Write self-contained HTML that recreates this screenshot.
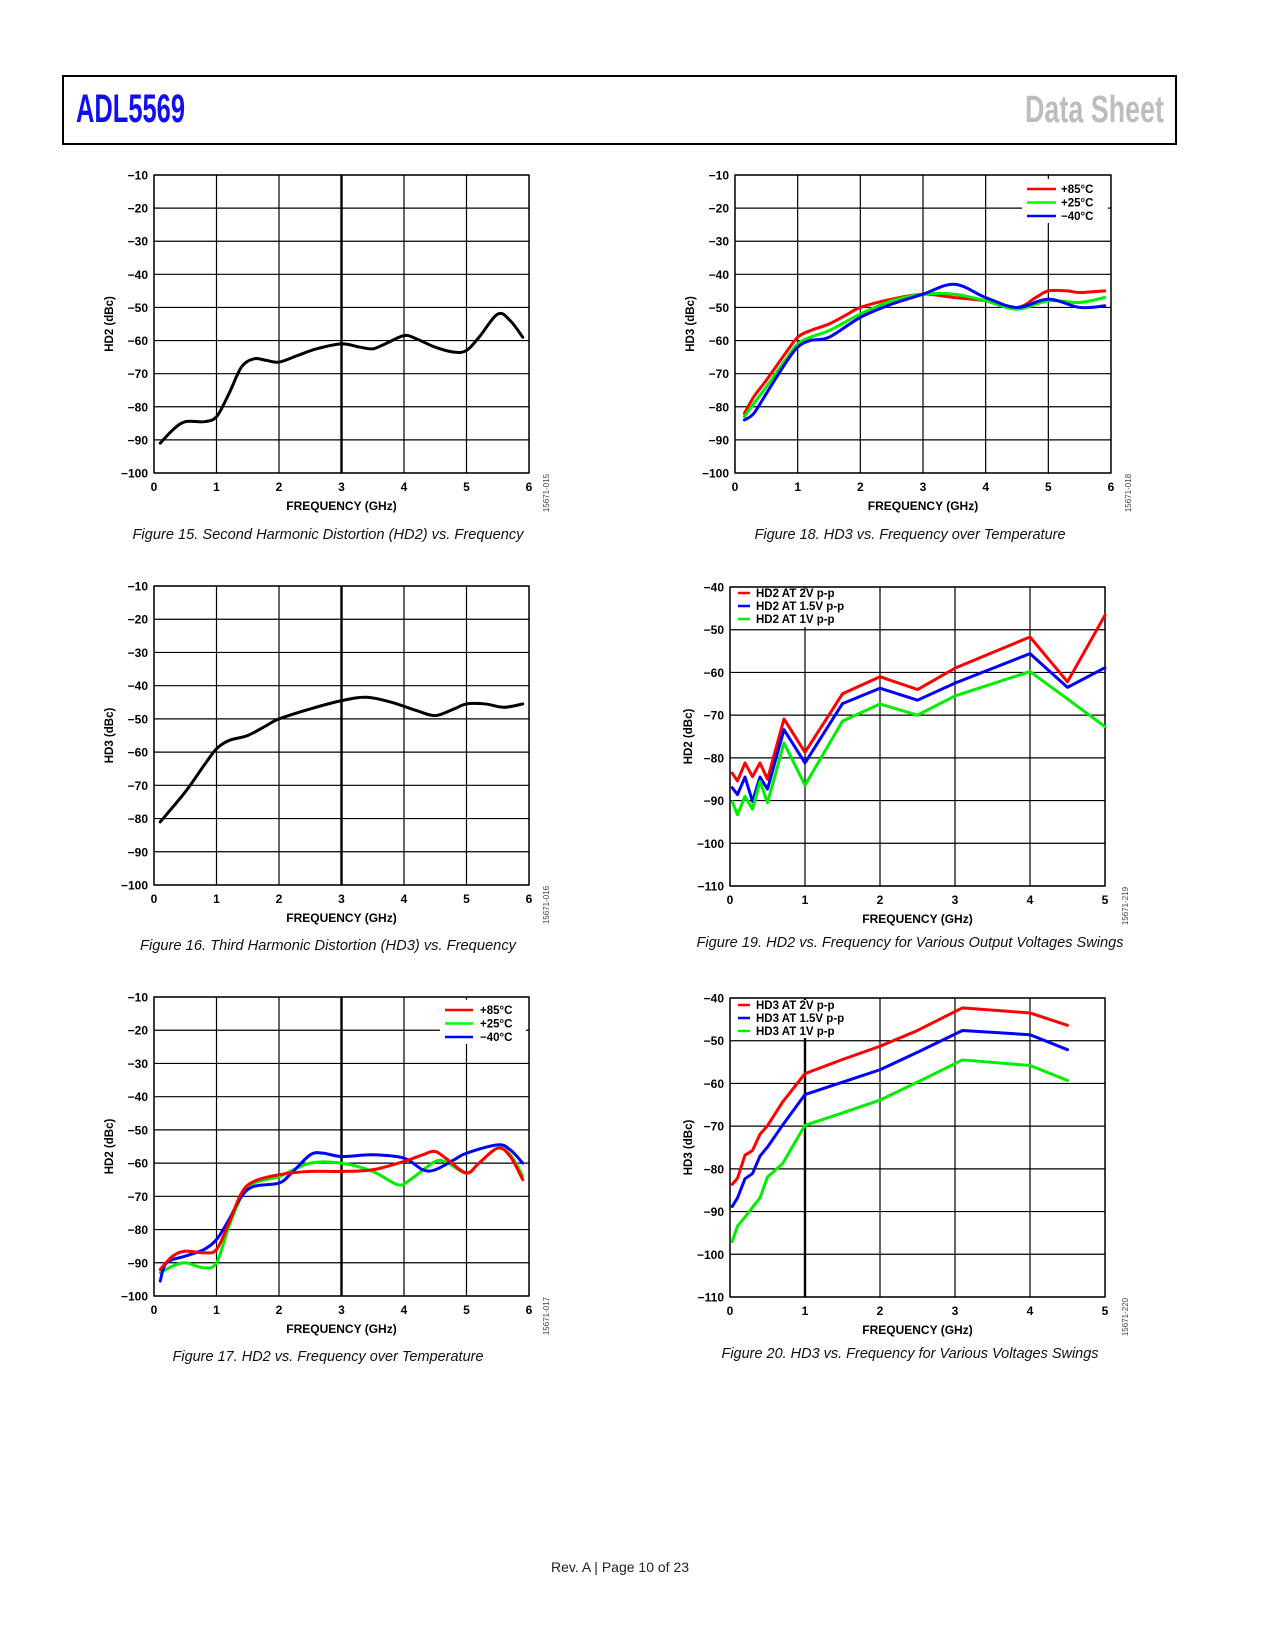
<!DOCTYPE html>
<html><head><meta charset="utf-8"><style>
html,body{margin:0;padding:0;background:#fff}
svg{display:block}
text{font-family:"Liberation Sans",sans-serif}
</style></head><body>
<svg id="page" width="1275" height="1650" viewBox="0 0 1275 1650" xmlns="http://www.w3.org/2000/svg">
<rect x="63" y="76" width="1113" height="68" fill="none" stroke="#000" stroke-width="2"/>
<text x="76" y="122" font-size="40" font-weight="bold" fill="#1010ee" textLength="109" lengthAdjust="spacingAndGlyphs">ADL5569</text>
<text x="1025" y="122" font-size="38" font-weight="bold" fill="#bdbdbd" textLength="139" lengthAdjust="spacingAndGlyphs">Data Sheet</text>
<text x="620" y="1572" font-size="14" text-anchor="middle" fill="#222">Rev. A | Page 10 of 23</text>
</svg>
<script>
// ---- Figure 15 data ----
const f15x=[0.1,0.3,0.5,0.8,1,1.2,1.4,1.6,1.8,2,2.3,2.6,3,3.3,3.5,3.7,4,4.2,4.5,4.8,5,5.2,5.5,5.7,5.9];
const f15y=[-91,-87,-84.5,-84.5,-83,-76,-68,-65.5,-66,-66.5,-64.5,-62.5,-61,-62,-62.5,-61,-58.5,-59.5,-62,-63.5,-63,-59,-52,-54,-59];
// ---- Figure 16 data ----
const f16x=[0.1,0.5,0.8,1,1.2,1.5,1.8,2,2.5,3,3.4,3.8,4.2,4.5,4.8,5,5.3,5.6,5.9];
const f16y=[-81,-72,-64,-59,-56.5,-55,-52,-50,-47,-44.5,-43.5,-45,-47.5,-49,-47,-45.5,-45.5,-46.5,-45.5];
// ---- Figure 17 data ----
const f17rx=[0.1,0.3,0.5,0.8,1,1.2,1.4,1.6,2,2.5,3,3.5,4,4.3,4.5,4.7,5,5.2,5.5,5.7,5.9];
const f17ry=[-92,-88,-86.5,-87,-86,-78,-69,-65.5,-63.5,-62.5,-62.5,-62,-59.5,-57.5,-56.5,-59,-63,-60,-55.5,-58,-65];
const f17gx=[0.1,0.3,0.5,0.8,1,1.2,1.4,1.6,2,2.5,3,3.5,3.9,4.1,4.5,4.7,5,5.2,5.5,5.7,5.9];
const f17gy=[-93,-91,-90,-91.5,-90,-79,-70,-66,-64,-60,-60,-62.5,-66.5,-65,-59.5,-60,-63,-60,-55.5,-57.5,-64];
const f17bx=[0.1,0.2,0.5,0.8,1,1.2,1.4,1.6,2,2.2,2.5,2.7,3,3.5,4,4.3,4.5,4.8,5,5.5,5.7,5.9];
const f17by=[-95.5,-90,-88,-86,-83,-77,-70,-67,-66,-63,-57.5,-57,-58,-57.5,-58.5,-62,-62,-59,-57,-54.5,-56,-60];
// ---- Figure 18 data ----
const f18rx=[0.15,0.3,0.5,0.8,1,1.2,1.5,1.8,2,2.5,3,3.5,4,4.5,4.8,5,5.3,5.5,5.9];
const f18ry=[-82,-77,-72,-64,-59,-57,-55,-52,-50,-47.5,-46,-47,-48,-50,-47,-45,-45,-45.5,-45];
const f18gx=[0.15,0.3,0.5,0.8,1,1.2,1.5,2,2.5,3,3.5,4,4.5,5,5.5,5.9];
const f18gy=[-83,-79,-74,-66,-61,-59,-57,-52,-48,-46,-46,-48,-50.5,-48,-48.5,-47];
const f18bx=[0.15,0.3,0.5,0.8,1,1.2,1.5,2,2.5,3,3.5,4,4.5,5,5.5,5.9];
const f18by=[-84,-82,-76,-67,-62,-60,-59,-53,-49,-46,-43,-47,-50,-47.5,-50,-49.5];
// ---- Figure 19 data ----
const f19x=[0.03,0.1,0.2,0.3,0.4,0.5,0.72,1,1.5,2,2.5,3,4,4.5,5];
const f19red=[-83.6,-85.4,-81.2,-84.4,-81.2,-85,-70.9,-78.7,-65,-61,-64,-59,-51.7,-62.2,-46.6];
const f19blue=[-87,-88.6,-84.5,-90.2,-84.5,-87.3,-73.4,-81.2,-67.3,-63.7,-66.5,-62.5,-55.6,-63.5,-58.9];
const f19green=[-90.3,-93.3,-89,-92,-85.5,-90.5,-76.5,-86.4,-71.4,-67.4,-70,-65.5,-59.8,-66.2,-72.7];
// ---- Figure 20 data ----
const f20x=[0.03,0.1,0.2,0.3,0.4,0.5,0.7,1,1.5,2,2.5,3.1,4,4.5];
const f20red=[-83.6,-82.2,-76.8,-75.7,-71.9,-69.9,-64.4,-57.7,-54.4,-51.3,-47.6,-42.3,-43.5,-46.4];
const f20blue=[-88.8,-86.8,-82.3,-81.1,-77,-74.9,-69.8,-62.6,-59.7,-56.8,-52.7,-47.6,-48.6,-52.1];
const f20green=[-97,-93.4,-91.3,-89,-86.8,-81.9,-78.8,-69.8,-66.9,-63.9,-59.7,-54.5,-55.8,-59.3];
// tick labels
const xTicks6=["0","1","2","3","4","5","6"];
const xTicks5=["0","1","2","3","4","5"];
const yTicksA=["−10","−20","−30","−40","−50","−60","−70","−80","−90","−100"];
const yTicksB=["−40","−50","−60","−70","−80","−90","−100","−110"];

const NS="http://www.w3.org/2000/svg";
const svg=document.getElementById('page');
function mk(tag,attrs,parent){const e=document.createElementNS(NS,tag);for(const k in attrs)e.setAttribute(k,attrs[k]);(parent||svg).appendChild(e);return e;}
function smooth(pts){let d="M"+pts[0][0]+","+pts[0][1];for(let i=0;i<pts.length-1;i++){const p0=pts[i-1]||pts[i],p1=pts[i],p2=pts[i+1],p3=pts[i+2]||p2;
d+=" C"+(p1[0]+(p2[0]-p0[0])/6)+","+(p1[1]+(p2[1]-p0[1])/6)+" "+(p2[0]-(p3[0]-p1[0])/6)+","+(p2[1]-(p3[1]-p1[1])/6)+" "+p2[0]+","+p2[1];}return d;}
function chart(c){
  const g=mk('g',{});
  
  
  const W=c.x1-c.x0,H=c.y1-c.y0;
  const sx=v=>c.x0+v/c.xmax*W;
  const sy=v=>c.y0+(c.ymax-v)/(c.ymax-c.ymin)*H;
  const ny=c.yt.length-1;
  for(let i=0;i<=ny;i++){const v=c.ymax-i*(c.ymax-c.ymin)/ny;const y=sy(v);
    const l=mk('line',{x1:c.x0,x2:c.x1,y1:y,y2:y,stroke:'#000','stroke-width':1.2},g);
    
    
    const t=mk('text',{x:c.x0-6,y:y+4.5,'font-size':12,'font-weight':'bold','text-anchor':'end'},g);t.textContent=c.yt[i];
    
    }
  for(let i=0;i<c.xt.length;i++){const x=sx(i);
    const l=mk('line',{x1:x,x2:x,y1:c.y0,y2:c.y1,stroke:'#000','stroke-width':i==c.thick?2.4:1.2},g);
    
    
    const t=mk('text',{x:x,y:c.y1+18,'font-size':12,'font-weight':'bold','text-anchor':'middle'},g);t.textContent=c.xt[i];
    
    }
  const fr=mk('rect',{x:c.x0,y:c.y0,width:W,height:H,fill:'none',stroke:'#000','stroke-width':1.4},g);
  
  
  const xt=mk('text',{x:(c.x0+c.x1)/2,y:c.y1+37,'font-size':12,'font-weight':'bold','text-anchor':'middle'},g);xt.textContent='FREQUENCY (GHz)';
  
  
  const yx=c.ytx,yy=(c.y0+c.y1)/2;
  const ytl=mk('text',{x:yx,y:yy,'font-size':11.5,'font-weight':'bold','text-anchor':'middle',transform:'rotate(-90 '+yx+' '+yy+')'},g);ytl.textContent=c.ytitle;
  
  
  const cx=c.codex,cy=c.y1+20;
  const cd=mk('text',{x:cx,y:cy,'font-size':8,fill:'#444','text-anchor':'middle',transform:'rotate(-90 '+cx+' '+cy+')'},g);cd.textContent=c.code;
  
  
  if(c.legend){const L=c.legend;
    const lb=mk('rect',{x:L.bx,y:L.by,width:L.bw,height:L.bh,fill:'#fff'},g);
    
    
    L.items.forEach((it,i)=>{const y=L.y+i*L.dy;
      const ll=mk('line',{x1:L.lx0,x2:L.lx1,y1:y,y2:y,stroke:it[1],'stroke-width':2.5},g);
      
      
      const lt=mk('text',{x:L.tx,y:y+4,'font-size':11.5,'font-weight':'bold'},g);lt.textContent=it[0];
      
      });}
  c.series.forEach(s=>{const pts=s.x.map((v,i)=>[sx(v),sy(s.y[i])]);
    const d=c.smooth?smooth(pts):"M"+pts.map(p=>p[0]+","+p[1]).join(" L");
    const p=mk('path',{d:d,fill:'none',stroke:s.color,'stroke-width':s.w||3,'stroke-linejoin':'round','stroke-linecap':'round'},g);
    
    });
  const cap=mk('text',{x:c.capx,y:c.capy,'font-size':15,'font-style':'italic','text-anchor':'middle',textLength:c.capw,lengthAdjust:'spacingAndGlyphs',fill:'#111'},g);cap.textContent=c.caption;
  
  
}
chart({name:'figure-15-hd2-chart',x0:154,y0:175,x1:529,y1:473,xmax:6,ymin:-100,ymax:-10,xt:xTicks6,yt:yTicksA,thick:3,smooth:true,ytx:113,ytitle:'HD2 (dBc)',codex:549,code:'15671-015',
  series:[{name:'hd2-line',x:f15x,y:f15y,color:'#000'}],capx:328,capy:539,capw:391,caption:'Figure 15. Second Harmonic Distortion (HD2) vs. Frequency'});
chart({name:'figure-18-hd3-temperature-chart',x0:735,y0:175,x1:1111,y1:473,xmax:6,ymin:-100,ymax:-10,xt:xTicks6,yt:yTicksA,thick:-1,smooth:true,ytx:694,ytitle:'HD3 (dBc)',codex:1131,code:'15671-018',
  legend:{bx:1022,by:179,bw:86,bh:44,lx0:1027,lx1:1056,tx:1061,y:189,dy:13.5,items:[['+85°C','#f00'],['+25°C','#0f0'],['−40°C','#00f']]},
  series:[{name:'hd3-85c-line',x:f18rx,y:f18ry,color:'#f00'},{name:'hd3-25c-line',x:f18gx,y:f18gy,color:'#0e0'},{name:'hd3-minus40c-line',x:f18bx,y:f18by,color:'#00f'}],
  capx:910,capy:539,capw:311,caption:'Figure 18. HD3 vs. Frequency over Temperature'});
chart({name:'figure-16-hd3-chart',x0:154,y0:586,x1:529,y1:885,xmax:6,ymin:-100,ymax:-10,xt:xTicks6,yt:yTicksA,thick:3,smooth:true,ytx:113,ytitle:'HD3 (dBc)',codex:549,code:'15671-016',
  series:[{name:'hd3-line',x:f16x,y:f16y,color:'#000'}],capx:328,capy:950,capw:376,caption:'Figure 16. Third Harmonic Distortion (HD3) vs. Frequency'});
chart({name:'figure-19-hd2-voltage-chart',x0:730,y0:587,x1:1105,y1:886,xmax:5,ymin:-110,ymax:-40,xt:xTicks5,yt:yTicksB,thick:-1,smooth:false,ytx:692,ytitle:'HD2 (dBc)',codex:1128,code:'15671-219',
  legend:{bx:733,by:589,bw:120,bh:38,lx0:738,lx1:750,tx:756,y:593,dy:13,items:[['HD2 AT 2V p-p','#f00'],['HD2 AT 1.5V p-p','#00f'],['HD2 AT 1V p-p','#0e0']]},
  series:[{name:'hd2-2v-line',x:f19x,y:f19red,color:'#f00'},{name:'hd2-1p5v-line',x:f19x,y:f19blue,color:'#00f'},{name:'hd2-1v-line',x:f19x,y:f19green,color:'#0e0'}],
  capx:910,capy:947,capw:427,caption:'Figure 19. HD2 vs. Frequency for Various Output Voltages Swings'});
chart({name:'figure-17-hd2-temperature-chart',x0:154,y0:997,x1:529,y1:1296,xmax:6,ymin:-100,ymax:-10,xt:xTicks6,yt:yTicksA,thick:3,smooth:true,ytx:113,ytitle:'HD2 (dBc)',codex:549,code:'15671-017',
  legend:{bx:440,by:1000,bw:86,bh:44,lx0:445,lx1:473,tx:480,y:1010,dy:13.5,items:[['+85°C','#f00'],['+25°C','#0f0'],['−40°C','#00f']]},
  series:[{name:'hd2-25c-line',x:f17gx,y:f17gy,color:'#0e0'},{name:'hd2-minus40c-line',x:f17bx,y:f17by,color:'#00f'},{name:'hd2-85c-line',x:f17rx,y:f17ry,color:'#f00'}],
  capx:328,capy:1361,capw:311,caption:'Figure 17. HD2 vs. Frequency over Temperature'});
chart({name:'figure-20-hd3-voltage-chart',x0:730,y0:998,x1:1105,y1:1297,xmax:5,ymin:-110,ymax:-40,xt:xTicks5,yt:yTicksB,thick:1,smooth:false,ytx:692,ytitle:'HD3 (dBc)',codex:1128,code:'15671-220',
  legend:{bx:733,by:1000,bw:120,bh:38,lx0:738,lx1:750,tx:756,y:1005,dy:13,items:[['HD3 AT 2V p-p','#f00'],['HD3 AT 1.5V p-p','#00f'],['HD3 AT 1V p-p','#0e0']]},
  series:[{name:'hd3-2v-line',x:f20x,y:f20red,color:'#f00'},{name:'hd3-1p5v-line',x:f20x,y:f20blue,color:'#00f'},{name:'hd3-1v-line',x:f20x,y:f20green,color:'#0e0'}],
  capx:910,capy:1358,capw:377,caption:'Figure 20. HD3 vs. Frequency for Various Voltages Swings'});
</script>
</body></html>
